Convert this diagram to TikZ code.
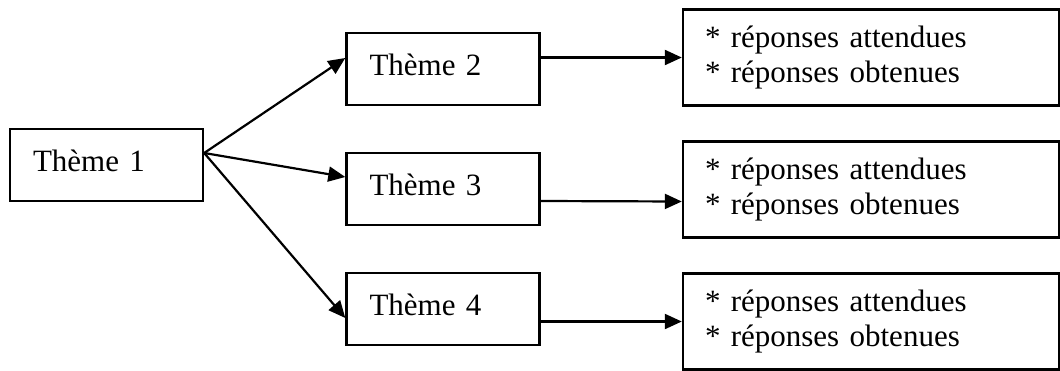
\documentclass[tikz,border=0pt]{standalone}
\usepackage{fontspec}
\setmainfont{Liberation Serif}
\usetikzlibrary{arrows.meta}

\tikzset{
  themebox/.style={draw, line width=1.2pt, rectangle, minimum width=96.5pt, minimum height=36pt,
    inner xsep=11.5pt, text width=73.5pt, align=left, text height=12pt, text depth=6pt,
    font=\fontsize{15.5}{17.5}\selectfont},
  answerbox/.style={draw, line width=1.2pt, rectangle, minimum width=188pt, minimum height=48pt,
    inner xsep=11pt, text width=166pt, align=left, font=\fontsize{15.5}{17.5}\selectfont},
  link/.style={line width=1.1pt, -{Triangle[length=8.5pt,width=7.5pt]}}
}

\begin{document}
\begin{tikzpicture}[x=0.5pt, y=-0.5pt]
\useasboundingbox (0,0) rectangle (1060,370);
% theme boxes
\node[themebox] at (106.5,165) (t1) {Thème 1};
\foreach \n/\y in {2/69, 3/189, 4/309} {
    \node[themebox] at (443,\y) (t\n) {Thème \n};
}
% answer boxes
\foreach \n/\y in {1/57.5, 2/189.5, 3/321.5} {
    \node[answerbox] at (871,\y) (r\n) {{*} réponses attendues\\ {*} réponses obtenues};
}
% arrows from theme 1
\coordinate (src) at ([yshift=6pt]t1.east);
\draw[link] (src) -- ([yshift=5.5pt]t2.west);
\draw[link] (src) -- ([yshift=6pt]t3.west);
\draw[link] (src) -- ([yshift=-4.5pt]t4.west);
% arrows to the answers
\draw[link] (t2.east |- r1.west) -- (r1.west);
\draw[link] ([yshift=-6pt]t3.east) -- ([yshift=-6pt]r2.west);
\draw[link] (t4.east |- r3.west) -- (r3.west);
\end{tikzpicture}
\end{document}
